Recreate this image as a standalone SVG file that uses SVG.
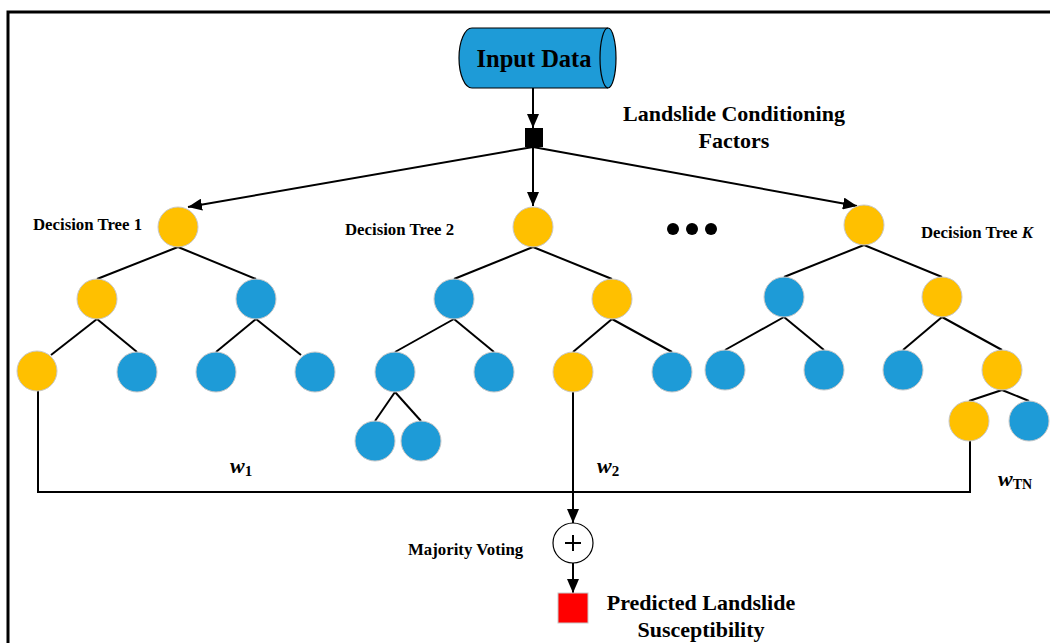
<svg xmlns="http://www.w3.org/2000/svg" width="1050" height="643" viewBox="0 0 1050 643">
  <style>
    .t { font-family: "Liberation Serif", "Times New Roman", serif; font-weight: bold; fill: #000; }
    .y { fill: #FFC000; stroke: #C8C8C8; stroke-width: 1; }
    .b { fill: #1E9BD7; stroke: #C8C8C8; stroke-width: 1; }
    .e { stroke: #000; stroke-width: 2; fill: none; }
    .a { stroke: #000; stroke-width: 2; fill: none; marker-end: url(#arr); }
  </style>
  <defs>
    <marker id="arr" viewBox="0 0 14 12" refX="14" refY="6" markerWidth="14" markerHeight="12" markerUnits="userSpaceOnUse" orient="auto">
      <path d="M0,0 L14,6 L0,12 Z" fill="#000"/>
    </marker>
  </defs>
  <rect width="1050" height="643" fill="#fff"/>
  <!-- outer frame -->
  <path d="M8,643 L8,12 L1050,12" stroke="#000" stroke-width="3" fill="none"/>

  <!-- connectors -->
  <g id="connectors">
    <line class="a" x1="533" y1="88" x2="533" y2="128"/>
    <line class="a" x1="533" y1="147" x2="188" y2="207"/>
    <line class="a" x1="533" y1="147" x2="533" y2="206"/>
    <line class="a" x1="533" y1="147" x2="857" y2="206"/>
    <!-- tree 1 -->
    <line class="e" x1="178" y1="247" x2="97" y2="279"/>
    <line class="e" x1="178" y1="247" x2="256" y2="279"/>
    <line class="e" x1="97" y1="319" x2="51" y2="355"/>
    <line class="e" x1="97" y1="319" x2="137" y2="352"/>
    <line class="e" x1="256" y1="319" x2="216" y2="352"/>
    <line class="e" x1="256" y1="319" x2="301" y2="355"/>
    <!-- tree 2 -->
    <line class="e" x1="533" y1="247" x2="454" y2="279"/>
    <line class="e" x1="533" y1="247" x2="612" y2="279"/>
    <line class="e" x1="454" y1="319" x2="395" y2="352"/>
    <line class="e" x1="454" y1="319" x2="494" y2="352"/>
    <line class="e" x1="612" y1="319" x2="573" y2="352"/>
    <line class="e" x1="612" y1="319" x2="672" y2="352"/>
    <line class="e" x1="395" y1="392" x2="375" y2="421"/>
    <line class="e" x1="395" y1="392" x2="421" y2="421"/>
    <!-- tree K -->
    <line class="e" x1="864" y1="245" x2="784" y2="277"/>
    <line class="e" x1="864" y1="245" x2="942" y2="277"/>
    <line class="e" x1="784" y1="317" x2="725" y2="350"/>
    <line class="e" x1="784" y1="317" x2="824" y2="350"/>
    <line class="e" x1="942" y1="317" x2="903" y2="350"/>
    <line class="e" x1="942" y1="317" x2="1002" y2="350"/>
    <line class="e" x1="1002" y1="390" x2="969" y2="401"/>
    <line class="e" x1="1002" y1="390" x2="1029" y2="401"/>
    <!-- voting paths -->
    <path class="e" d="M38,390 L38,492 L970,492 L970,440"/>
    <line class="a" x1="573" y1="392" x2="573" y2="523"/>
    <line class="a" x1="573" y1="563" x2="573" y2="593"/>
  </g>

  <!-- input data cylinder -->
  <g id="input-data">
    <path d="M472,28 L608,28 A8,30 0 0 1 608,88 L472,88 A13,30 0 0 1 472,28 Z" fill="#1E9BD7" stroke="#000" stroke-width="1.2"/>
    <path d="M608,28 A8,30 0 0 0 608,88" fill="none" stroke="#000" stroke-width="1.2"/>
    <text class="t" x="534" y="67" font-size="24.5" text-anchor="middle">Input Data</text>
  </g>

  <g id="factors">
    <rect x="525" y="128" width="18" height="19" fill="#000"/>
    <text class="t" x="734" y="121" font-size="22" text-anchor="middle">Landslide Conditioning</text>
    <text class="t" x="734" y="148" font-size="22" text-anchor="middle">Factors</text>
  </g>

  <!-- decision tree 1 -->
  <g id="tree-1">
    <text class="t" x="33" y="230" font-size="16.8">Decision Tree 1</text>
    <circle class="y" cx="178" cy="227" r="20"/>
    <circle class="y" cx="97" cy="299" r="20"/>
    <circle class="b" cx="256" cy="299" r="20"/>
    <circle class="y" cx="37" cy="371" r="20"/>
    <circle class="b" cx="137" cy="372" r="20"/>
    <circle class="b" cx="216" cy="372" r="20"/>
    <circle class="b" cx="315" cy="372" r="20"/>
  </g>

  <!-- decision tree 2 -->
  <g id="tree-2">
    <text class="t" x="345" y="235" font-size="16.8">Decision Tree 2</text>
    <circle class="y" cx="533" cy="227" r="20"/>
    <circle class="b" cx="454" cy="299" r="20"/>
    <circle class="y" cx="612" cy="299" r="20"/>
    <circle class="b" cx="395" cy="372" r="20"/>
    <circle class="b" cx="494" cy="372" r="20"/>
    <circle class="y" cx="573" cy="372" r="20"/>
    <circle class="b" cx="672" cy="372" r="20"/>
    <circle class="b" cx="375" cy="441" r="20"/>
    <circle class="b" cx="421" cy="441" r="20"/>
  </g>

  <g id="ellipsis">
    <circle cx="673" cy="229" r="6" fill="#000"/>
    <circle cx="692" cy="229" r="6" fill="#000"/>
    <circle cx="711" cy="229" r="6" fill="#000"/>
  </g>

  <!-- decision tree K -->
  <g id="tree-k">
    <text class="t" x="921" y="238" font-size="16.8">Decision Tree <tspan font-style="italic">K</tspan></text>
    <circle class="y" cx="864" cy="225" r="20"/>
    <circle class="b" cx="784" cy="297" r="20"/>
    <circle class="y" cx="942" cy="297" r="20"/>
    <circle class="b" cx="725" cy="370" r="20"/>
    <circle class="b" cx="824" cy="370" r="20"/>
    <circle class="b" cx="903" cy="370" r="20"/>
    <circle class="y" cx="1002" cy="370" r="20"/>
    <circle class="y" cx="969" cy="421" r="20"/>
    <circle class="b" cx="1029" cy="421" r="20"/>
  </g>

  <g id="weights">
    <text class="t" x="230" y="473" font-size="22" font-style="italic">w<tspan font-style="normal" font-size="15" dy="3">1</tspan></text>
    <text class="t" x="597" y="473" font-size="22" font-style="italic">w<tspan font-style="normal" font-size="15" dy="3">2</tspan></text>
    <text class="t" x="998" y="486" font-size="22" font-style="italic">w<tspan font-style="normal" font-size="14" dy="3">TN</tspan></text>
  </g>

  <g id="majority-voting">
    <circle cx="573" cy="543" r="20" fill="#fff" stroke="#000" stroke-width="1.2"/>
    <path d="M565,543 H581 M573,535 V551" stroke="#000" stroke-width="2"/>
    <text class="t" x="408" y="555" font-size="16.8">Majority Voting</text>
  </g>

  <g id="prediction">
    <rect x="558" y="593" width="30" height="30" fill="#FF0000" stroke="#C8C8C8" stroke-width="1"/>
    <text class="t" x="701" y="610" font-size="22" text-anchor="middle">Predicted Landslide</text>
    <text class="t" x="701" y="637" font-size="22" text-anchor="middle">Susceptibility</text>
  </g>
</svg>
